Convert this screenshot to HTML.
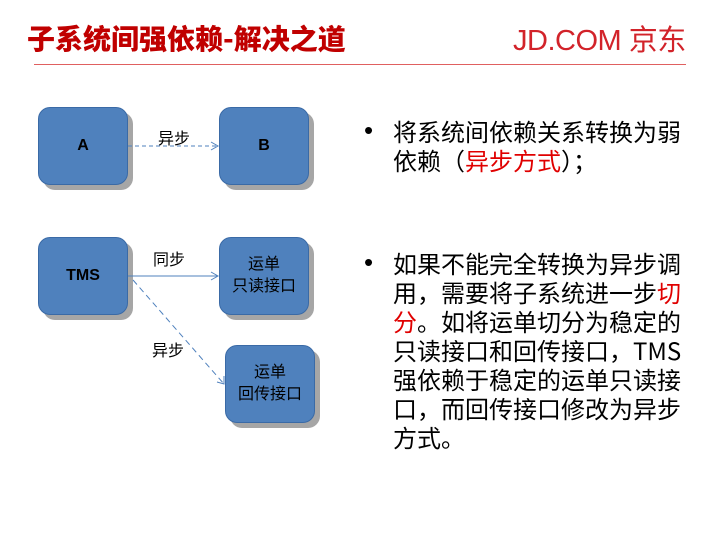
<!DOCTYPE html>
<html><head><meta charset="utf-8"><style>
body{margin:0;width:720px;height:540px;background:#fff;position:relative;overflow:hidden;font-family:"Liberation Sans","Noto Sans CJK SC",sans-serif}
.t{position:absolute;white-space:nowrap}
.box{position:absolute;width:90px;height:78px;background:#4f81bd;border-radius:12px;box-shadow:5px 5px 0 #a6a6a6;border:1px solid #3a6aa6;box-sizing:border-box;display:flex;align-items:center;justify-content:center;text-align:center;font-size:16px;color:#000;line-height:22px}
.p{position:absolute;left:393px;font-size:24px;height:29px;line-height:29px;color:#000;font-family:"Noto Sans CJK SC","Liberation Sans",sans-serif;white-space:nowrap}
.b{position:absolute;left:364px;font-size:26px;line-height:29px}
.r{color:#e00000}
</style></head><body>
<div class="t" style="left:27px;top:18px;font-size:28px;font-weight:900;color:#c00000;font-family:'Noto Sans CJK SC',sans-serif;line-height:40px;letter-spacing:0px">子系统间强依赖-解决之道</div>
<div class="t" style="left:513px;top:20px;font-size:29px;color:#d2232a;letter-spacing:-0.5px;line-height:36px">JD.COM <span style="font-family:'Noto Sans CJK SC',sans-serif">京东</span></div>
<div style="position:absolute;left:34px;top:64px;width:652px;height:1px;background:#e06060"></div>
<div class="box" style="left:38px;top:107px;font-weight:bold">A</div>
<div class="box" style="left:219px;top:107px;font-weight:bold">B</div>
<div class="box" style="left:38px;top:237px;font-weight:bold">TMS</div>
<div class="box" style="left:219px;top:237px">运单<br>只读接口</div>
<div class="box" style="left:225px;top:345px">运单<br>回传接口</div>
<svg style="position:absolute;left:0;top:0" width="720" height="540">
<g stroke="#4f81bd" fill="none" stroke-width="1">
<line x1="128" y1="146" x2="218" y2="146" stroke-dasharray="4,3"/>
<polyline points="211,142 218,146 211,150"/>
<line x1="128" y1="276" x2="218" y2="276"/>
<polyline points="211,272 218,276 211,280"/>
<line x1="133" y1="280" x2="224" y2="384" stroke-dasharray="6,4"/>
<polyline points="224,376 224,384 217,382"/>
</g></svg>
<div class="t" style="left:158px;top:125px;font-size:16px">异步</div>
<div class="t" style="left:153px;top:246px;font-size:16px">同步</div>
<div class="t" style="left:152px;top:337px;font-size:16px">异步</div>
<div class="b" style="top:116px">•</div>
<div class="p" style="top:116px">将系统间依赖关系转换为弱</div>
<div class="p" style="top:145px">依赖（<span class="r">异步方式</span>）；</div>
<div class="b" style="top:248px">•</div>
<div class="p" style="top:248px">如果不能完全转换为异步调</div>
<div class="p" style="top:277px">用，需要将子系统进一步<span class="r">切</span></div>
<div class="p" style="top:306px"><span class="r">分</span>。如将运单切分为稳定的</div>
<div class="p" style="top:335px">只读接口和回传接口，TMS</div>
<div class="p" style="top:364px">强依赖于稳定的运单只读接</div>
<div class="p" style="top:393px">口，而回传接口修改为异步</div>
<div class="p" style="top:422px">方式。</div>
</body></html>
